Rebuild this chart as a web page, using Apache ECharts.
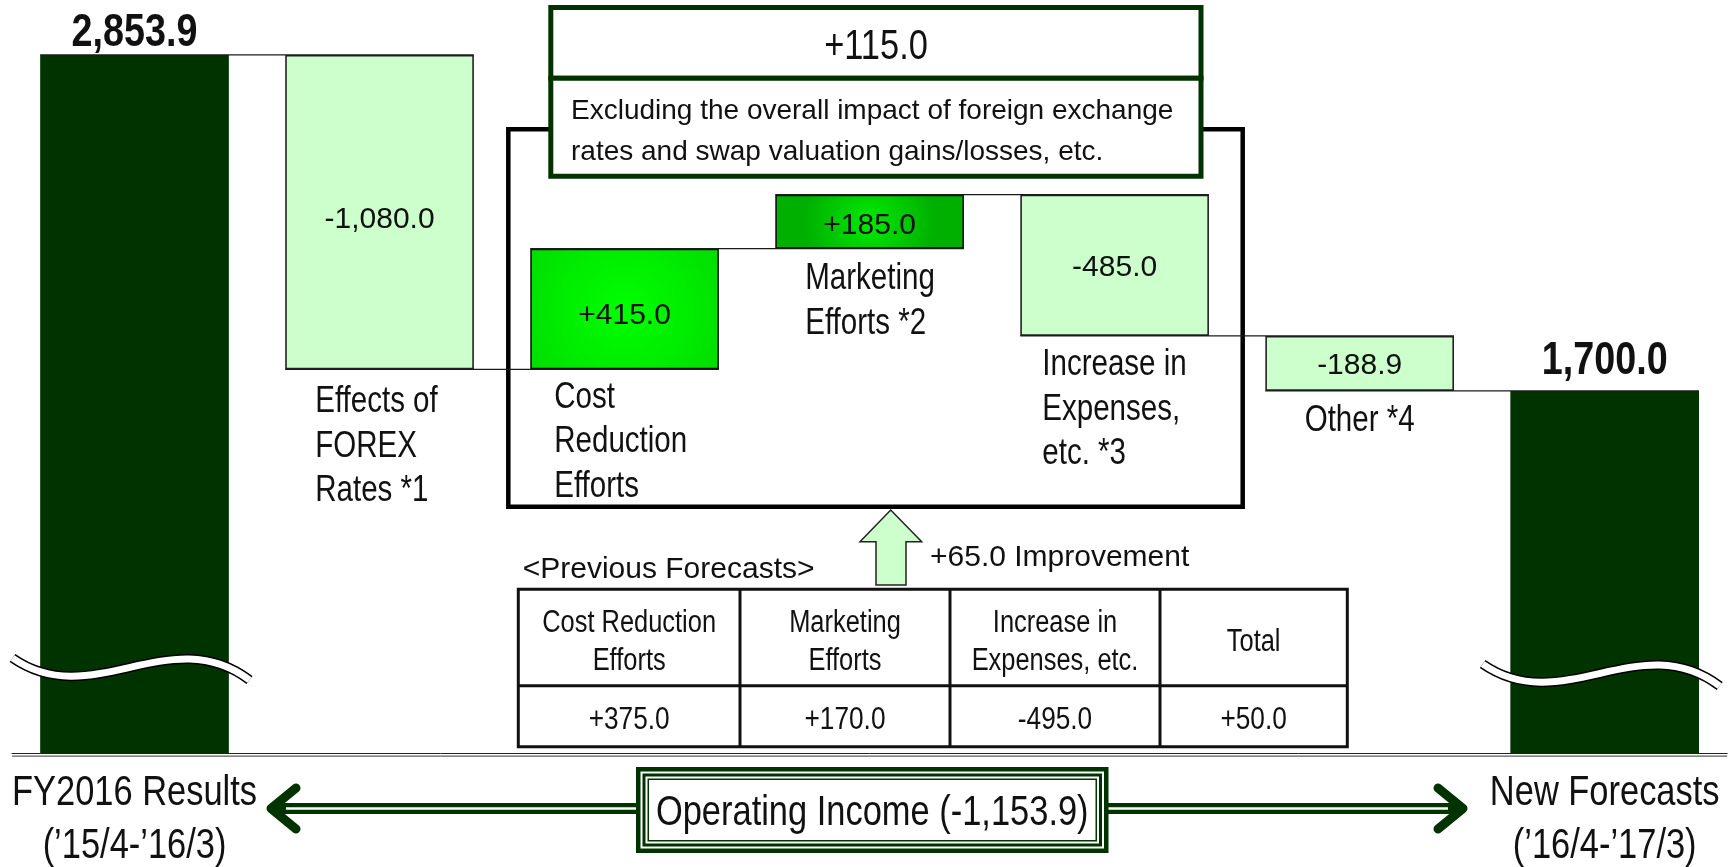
<!DOCTYPE html>
<html>
<head>
<meta charset="utf-8">
<title>Operating Income Bridge</title>
<script src="https://cdn.jsdelivr.net/npm/echarts@6/dist/echarts.min.js"></script>
<style>
  html, body { margin: 0; padding: 0; background: #fff; }
  #chart { width: 1731px; height: 867px; }
</style>
</head>
<body>
<div id="chart"></div>
<script>
// ---- data ----
const categories = ['FY2016 Results', 'Effects of FOREX Rates *1', 'Cost Reduction Efforts',
  'Marketing Efforts *2', 'Increase in Expenses, etc. *3', 'Other *4', 'New Forecasts'];
const categoryLines = [
  ['FY2016 Results', '(\u201915/4-\u201916/3)'],
  ['Effects of', 'FOREX', 'Rates *1'],
  ['Cost', 'Reduction', 'Efforts'],
  ['Marketing', 'Efforts *2'],
  ['Increase in', 'Expenses,', 'etc. *3'],
  ['Other *4'],
  ['New Forecasts', '(\u201916/4-\u201917/3)']
];
const startTotal = 2853.9;
const changes = [-1080.0, 415.0, 185.0, -485.0, -188.9];
const endTotal = 1700.0;

const excludingFxTotal = 115.0;
const noteLines = ['Excluding the overall impact of foreign exchange',
  'rates and swap valuation gains/losses, etc.'];
const vsPrevious = 65.0;
const prevHeaders = [['Cost Reduction', 'Efforts'], ['Marketing', 'Efforts'],
  ['Increase in', 'Expenses, etc.'], ['Total']];
const prevValues = [375.0, 170.0, -495.0, 50.0];
const operatingIncomeChange = -1153.9;

// ---- look ----
const DARK = '#003300';
const LIGHT = '#ccffcc';
const BAR_RATIO = 0.77;
const TEXT_DY = 3.5; // canvas 'middle' sits a little above the cap centre

// narrow font if we have it, otherwise squeeze the regular one
const probe = document.createElement('canvas').getContext('2d');
probe.font = '40px "Liberation Sans Narrow", monospace';
const wNarrow = probe.measureText('Forecasts Income').width;
probe.font = '40px monospace';
const hasNarrow = wNarrow !== probe.measureText('Forecasts Income').width;
const NARROW = hasNarrow ? 'Liberation Sans Narrow' : 'Liberation Sans';
const SQUEEZE = hasNarrow ? 1 : 0.82;

function fmt(v, sign) {
  const s = Math.abs(v).toLocaleString('en-US', { minimumFractionDigits: 1, maximumFractionDigits: 1 });
  return (v < 0 ? '-' : sign ? '+' : '') + s;
}

function label(str, x, y, size, o = {}) {
  const narrow = o.narrow !== false;
  return {
    type: 'text', x: x, y: y + TEXT_DY, z: 40, scaleX: narrow ? SQUEEZE : 1,
    style: {
      text: str, x: 0, y: 0,
      fontFamily: narrow ? NARROW : 'Liberation Sans',
      fontSize: size, fontWeight: o.bold ? 'bold' : 'normal',
      fill: '#111', align: o.align || 'left', verticalAlign: 'middle'
    }
  };
}

// waterfall table for the stacked bars
const levels = [startTotal];
changes.forEach(c => levels.push(levels[levels.length - 1] + c));
const baseData = [0];
const barData = [startTotal];
changes.forEach((c, i) => {
  baseData.push(Math.min(levels[i], levels[i + 1]));
  barData.push(Math.abs(c));
});
baseData.push(0);
barData.push(endTotal);

const grad = (inner, outer) => ({
  type: 'radial', x: 0.5, y: 0.5, r: 1.2,
  colorStops: [{ offset: 0, color: inner }, { offset: 1, color: outer }]
});
const fills = [DARK, LIGHT, grad('#00ff00', '#00d400'), grad('#00ea00', '#00b000'), LIGHT, LIGHT, DARK];
const borders = [DARK, '#222', '#111', '#111', '#222', '#222', DARK];
const valueLabelDy = [0, 7.5, 6.5, 4, 2.5, 2.5, 0];

const chart = echarts.init(document.getElementById('chart'));

chart.setOption({
  animation: false,
  grid: { left: 12, right: 3.8, top: 12.4, bottom: 113.5 },
  xAxis: {
    type: 'category',
    data: categories,
    axisLine: { lineStyle: { color: '#222', width: 1 } },
    axisTick: { show: false },
    axisLabel: { show: false }
  },
  yAxis: { type: 'value', min: 455, max: 3000, show: false },
  series: [
    {
      type: 'bar', stack: 'w', barWidth: '77%', silent: true,
      itemStyle: { color: 'transparent' },
      data: baseData
    },
    {
      type: 'bar', stack: 'w', barWidth: '77%',
      data: barData.map((v, i) => ({
        value: v,
        itemStyle: { color: fills[i], borderColor: borders[i], borderWidth: i % 6 === 0 ? 0 : 1.6 },
        label: { offset: [0, valueLabelDy[i]] }
      })),
      label: {
        show: true, position: 'inside',
        fontFamily: 'Liberation Sans', fontSize: 30, color: '#111',
        formatter: p => (p.dataIndex > 0 && p.dataIndex < 6) ? fmt(changes[p.dataIndex - 1], true) : ''
      }
    },
    {
      type: 'custom', z: 5,
      data: levels.map((v, i) => [i, v]),
      renderItem: (params, api) => {
        const i = api.value(0);
        const level = api.value(1);
        const half = api.size([1, 0])[0] * BAR_RATIO / 2;
        const a = api.coord([i, level]);
        const b = api.coord([i + 1, level]);
        return {
          type: 'line',
          shape: { x1: a[0] - half, y1: a[1], x2: b[0] + half, y2: b[1] },
          style: { stroke: '#1a1a1a', lineWidth: 1.3 }
        };
      }
    }
  ]
});

// ---- annotations placed from the axes ----
const px = (i, v) => chart.convertToPixel({ gridIndex: 0 }, [i, v]);
const band = px(1, 1000)[0] - px(0, 1000)[0];
const half = band * BAR_RATIO / 2;
const g = [];

// category labels
const labelLayout = [null, { dx: 30, dy: 29.5 }, { dx: 24, dy: 25 }, { dx: 30, dy: 27 },
  { dx: 22, dy: 26 }, { center: true, dy: 26.5 }, null];
const LINE = 44.5;
for (let i = 1; i <= 5; i++) {
  const low = Math.min(levels[i - 1], levels[i]);
  const p = px(i, low);
  const lay = labelLayout[i];
  categoryLines[i].forEach((t, k) => {
    if (lay.center) g.push(label(t, p[0], p[1] + lay.dy + k * LINE, 36, { align: 'center' }));
    else g.push(label(t, p[0] - half + lay.dx, p[1] + lay.dy + k * LINE, 36));
  });
}
[0, 6].forEach(i => {
  const x = px(i, 0)[0];
  categoryLines[i].forEach((t, k) => g.push(label(t, x, 790 + k * 53, 42, { align: 'center' })));
});

// totals above the end bars
[[0, startTotal, 25], [6, endTotal, 33]].forEach(([i, v, gap]) => {
  const p = px(i, v);
  g.push(label(fmt(v), p[0], p[1] - gap, 46, { align: 'center', bold: true }));
});

// axis break marks
function wave(cx, cy) {
  const shape = { x1: cx - 122, y1: cy - 10, cpx1: cx - 43, cpy1: cy + 45, cpx2: cx + 36, cpy2: cy - 48, x2: cx + 115, y2: cy + 12 };
  g.push({ type: 'bezierCurve', z: 8, shape: shape, style: { stroke: '#000', lineWidth: 10, fill: null } });
  g.push({ type: 'bezierCurve', z: 9, shape: shape, style: { stroke: '#fff', lineWidth: 7, fill: null } });
}
wave(px(0, 0)[0], 668);
wave(px(6, 0)[0], 674);

// second rule of the double base line
const baseY = px(0, 455)[1];
g.push({ type: 'line', z: 3, shape: { x1: 12, y1: baseY + 2.6, x2: 1727.2, y2: baseY + 2.6 }, style: { stroke: '#333', lineWidth: 1 } });

// black frame round the three efforts
g.push({ type: 'rect', z: 1, shape: { x: 508.3, y: 129.3, width: 734.4, height: 377.4 }, style: { fill: null, stroke: '#000', lineWidth: 4.5 } });

// green box on top
g.push({ type: 'rect', z: 10, shape: { x: 550.8, y: 7.5, width: 650.2, height: 70.8 }, style: { fill: '#fff', stroke: DARK, lineWidth: 5 } });
g.push({ type: 'rect', z: 10, shape: { x: 550.8, y: 78.3, width: 650.2, height: 97.9 }, style: { fill: '#fff', stroke: DARK, lineWidth: 5 } });
g.push(label(fmt(excludingFxTotal, true), 876, 44, 42, { align: 'center' }));
noteLines.forEach((t, k) => g.push(label(t, 571, 108 + k * 41, 28, { narrow: false })));

// improvement arrow and previous forecasts
g.push({
  type: 'polygon', z: 10,
  shape: { points: [[890.7, 510], [921.7, 541.7], [906, 541.7], [906, 585], [876, 585], [876, 541.7], [860, 541.7]] },
  style: { fill: LIGHT, stroke: '#222', lineWidth: 1.5 }
});
g.push(label(fmt(vsPrevious, true) + ' Improvement', 930, 554, 30, { narrow: false }));
g.push(label('<Previous Forecasts>', 522.7, 566, 30, { narrow: false }));

const cols = [518.3, 740, 950, 1160, 1347.3];
const tTop = 589.3, tMid = 685.7, tBot = 746.7;
g.push({ type: 'rect', z: 10, shape: { x: cols[0], y: tTop, width: cols[4] - cols[0], height: tBot - tTop }, style: { fill: '#fff', stroke: '#111', lineWidth: 3 } });
g.push({ type: 'line', z: 11, shape: { x1: cols[0], y1: tMid, x2: cols[4], y2: tMid }, style: { stroke: '#111', lineWidth: 3 } });
[1, 2, 3].forEach(c => g.push({ type: 'line', z: 11, shape: { x1: cols[c], y1: tTop, x2: cols[c], y2: tBot }, style: { stroke: '#111', lineWidth: 3 } }));
prevHeaders.forEach((lines, c) => {
  const cx = (cols[c] + cols[c + 1]) / 2;
  if (lines.length === 1) g.push(label(lines[0], cx, 638.5, 31, { align: 'center' }));
  else lines.forEach((t, k) => g.push(label(t, cx, 620 + k * 37.5, 31, { align: 'center' })));
  g.push(label(fmt(prevValues[c], true), cx, 717, 32, { align: 'center' }));
});

// bottom arrows and operating income box
const arrowY = 808.5;
g.push({ type: 'line', z: 12, shape: { x1: 272, y1: arrowY, x2: 640, y2: arrowY }, style: { stroke: DARK, lineWidth: 11 } });
g.push({ type: 'line', z: 13, shape: { x1: 286, y1: arrowY, x2: 640, y2: arrowY }, style: { stroke: '#fff', lineWidth: 2.5 } });
g.push({ type: 'polyline', z: 14, shape: { points: [[296, 788], [271, arrowY], [296, 829]] }, style: { stroke: DARK, lineWidth: 9, lineCap: 'round', lineJoin: 'round', fill: null } });
g.push({ type: 'line', z: 12, shape: { x1: 1104, y1: arrowY, x2: 1461, y2: arrowY }, style: { stroke: DARK, lineWidth: 11 } });
g.push({ type: 'line', z: 13, shape: { x1: 1104, y1: arrowY, x2: 1448, y2: arrowY }, style: { stroke: '#fff', lineWidth: 2.5 } });
g.push({ type: 'polyline', z: 14, shape: { points: [[1438, 788], [1463, arrowY], [1438, 829]] }, style: { stroke: DARK, lineWidth: 9, lineCap: 'round', lineJoin: 'round', fill: null } });

const ob = { x: 636, y: 767, w: 472.5, h: 86 };
[[0, DARK], [4.5, '#fff'], [6.5, DARK], [9.5, '#fff'], [11.5, DARK], [13, '#fff']].forEach(([d, c], k) => {
  g.push({ type: 'rect', z: 20 + k, shape: { x: ob.x + d, y: ob.y + d, width: ob.w - 2 * d, height: ob.h - 2 * d }, style: { fill: c } });
});
g.push(label('Operating Income (' + fmt(operatingIncomeChange) + ')', ob.x + ob.w / 2, 809.5, 42, { align: 'center' }));

chart.setOption({ graphic: { elements: g } });
</script>
</body>
</html>
